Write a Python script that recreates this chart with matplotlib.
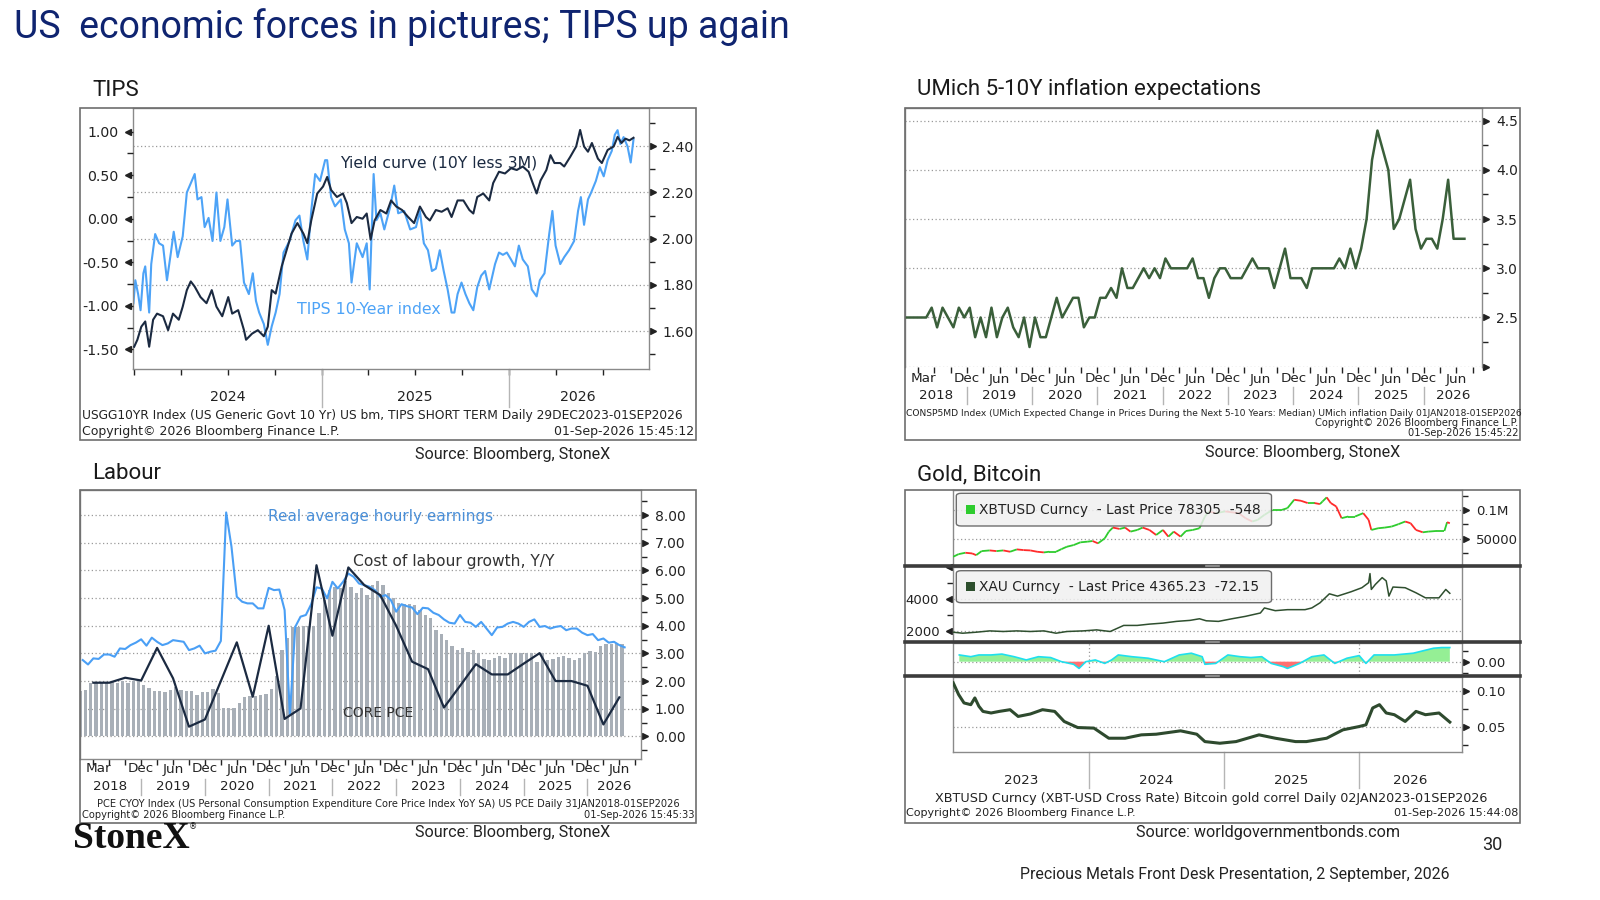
import numpy as np
import matplotlib
matplotlib.use('Agg')
import matplotlib.pyplot as plt
from matplotlib.patches import Rectangle, FancyBboxPatch
from matplotlib.transforms import blended_transform_factory, offset_copy
from matplotlib.collections import LineCollection
from matplotlib.lines import Line2D

# ---------------- data ----------------
# TIPS panel (decimal years)
yc_t = [2024.000, 2024.017, 2024.038, 2024.059, 2024.080, 2024.101, 2024.122, 2024.154, 2024.181, 2024.207,
        2024.238, 2024.259, 2024.281, 2024.302, 2024.323, 2024.354, 2024.386, 2024.414, 2024.439, 2024.470,
        2024.502, 2024.523, 2024.555, 2024.586, 2024.597, 2024.629, 2024.660, 2024.692, 2024.713, 2024.734,
        2024.755, 2024.787, 2024.808, 2024.840, 2024.871, 2024.903, 2024.924, 2024.945, 2024.977, 2025.008,
        2025.030, 2025.051, 2025.082, 2025.114, 2025.135, 2025.160, 2025.188, 2025.219, 2025.241, 2025.262,
        2025.283, 2025.314, 2025.346, 2025.371, 2025.399, 2025.430, 2025.462, 2025.494, 2025.525, 2025.557,
        2025.578, 2025.610, 2025.641, 2025.673, 2025.694, 2025.726, 2025.757, 2025.789, 2025.810, 2025.831,
        2025.863, 2025.895, 2025.916, 2025.947, 2025.979, 2026.011, 2026.042, 2026.074, 2026.105, 2026.127,
        2026.148, 2026.169, 2026.200, 2026.222, 2026.243, 2026.274, 2026.295, 2026.327, 2026.359, 2026.380,
        2026.401, 2026.422, 2026.443, 2026.475, 2026.496, 2026.527, 2026.559, 2026.580, 2026.601, 2026.622,
        2026.643, 2026.665]
yc_v = [-1.47, -1.39, -1.24, -1.18, -1.47, -1.16, -1.09, -1.12, -1.28, -1.09,
        -1.16, -1.01, -0.82, -0.72, -0.78, -0.90, -0.97, -0.82, -1.01, -1.12,
        -0.90, -1.09, -1.05, -1.28, -1.39, -1.32, -1.28, -1.35, -1.24, -0.82,
        -0.86, -0.55, -0.40, -0.17, -0.05, -0.17, -0.28, -0.02, 0.29, 0.37,
        0.48, 0.33, 0.25, 0.29, 0.18, -0.05, 0.02, 0.00, 0.06, -0.24,
        -0.02, 0.10, 0.06, 0.21, 0.14, 0.10, 0.02, -0.05, 0.14, 0.02,
        -0.02, 0.10, 0.08, 0.12, 0.02, 0.21, 0.21, 0.10, 0.06, 0.25,
        0.29, 0.21, 0.41, 0.54, 0.52, 0.58, 0.56, 0.60, 0.54, 0.41,
        0.29, 0.44, 0.56, 0.73, 0.64, 0.64, 0.60, 0.71, 0.83, 1.02,
        0.83, 0.77, 0.87, 0.69, 0.64, 0.79, 0.83, 0.94, 0.87, 0.92,
        0.90, 0.93]

tips_t = [2023.996, 2024.006, 2024.021, 2024.034, 2024.049, 2024.059, 2024.080, 2024.091, 2024.112, 2024.133,
          2024.154, 2024.175, 2024.196, 2024.211, 2024.232, 2024.259, 2024.281, 2024.302, 2024.323, 2024.338,
          2024.359, 2024.376, 2024.397, 2024.418, 2024.439, 2024.460, 2024.481, 2024.498, 2024.523, 2024.544,
          2024.565, 2024.586, 2024.612, 2024.633, 2024.650, 2024.667, 2024.692, 2024.713, 2024.734, 2024.755,
          2024.776, 2024.797, 2024.829, 2024.861, 2024.882, 2024.903, 2024.924, 2024.945, 2024.966, 2024.992,
          2025.019, 2025.030, 2025.051, 2025.072, 2025.103, 2025.124, 2025.146, 2025.160, 2025.188, 2025.219,
          2025.241, 2025.257, 2025.278, 2025.293, 2025.314, 2025.335, 2025.367, 2025.388, 2025.409, 2025.441,
          2025.473, 2025.504, 2025.525, 2025.546, 2025.568, 2025.589, 2025.610, 2025.631, 2025.652, 2025.673,
          2025.694, 2025.709, 2025.726, 2025.747, 2025.768, 2025.789, 2025.810, 2025.831, 2025.852, 2025.873,
          2025.895, 2025.926, 2025.947, 2025.968, 2025.989, 2026.011, 2026.032, 2026.053, 2026.074, 2026.101,
          2026.122, 2026.148, 2026.165, 2026.190, 2026.215, 2026.232, 2026.249, 2026.274, 2026.295, 2026.321,
          2026.348, 2026.369, 2026.384, 2026.401, 2026.422, 2026.439, 2026.464, 2026.485, 2026.506, 2026.527,
          2026.549, 2026.565, 2026.580, 2026.595, 2026.612, 2026.633, 2026.650, 2026.665]
tips_v = [1.72, 1.82, 1.76, 1.69, 1.85, 1.88, 1.68, 1.89, 2.02, 1.98,
          1.97, 1.82, 1.94, 2.03, 1.92, 2.01, 2.20, 2.24, 2.28, 2.17,
          2.18, 2.05, 2.09, 1.99, 2.20, 1.99, 2.05, 2.17, 1.97, 1.99,
          1.99, 1.81, 1.76, 1.85, 1.73, 1.68, 1.63, 1.54, 1.62, 1.68,
          1.76, 1.94, 1.99, 2.08, 2.10, 1.99, 1.91, 2.12, 2.28, 2.25,
          2.34, 2.34, 2.18, 2.14, 2.17, 2.04, 1.98, 1.81, 1.98, 1.92,
          1.98, 1.78, 2.28, 2.08, 2.11, 2.04, 2.14, 2.23, 2.11, 2.12,
          2.04, 2.05, 2.12, 1.98, 1.95, 1.86, 1.87, 1.95, 1.86, 1.78,
          1.68, 1.68, 1.76, 1.81, 1.76, 1.72, 1.69, 1.79, 1.84, 1.86,
          1.78, 1.89, 1.94, 1.93, 1.94, 1.91, 1.88, 1.97, 1.91, 1.88,
          1.78, 1.75, 1.82, 1.85, 2.02, 2.12, 1.97, 1.89, 1.92, 1.95,
          1.99, 2.12, 2.18, 2.06, 2.17, 2.20, 2.25, 2.31, 2.27, 2.34,
          2.38, 2.45, 2.47, 2.41, 2.44, 2.40, 2.33, 2.43]

# UMich 5-10Y inflation expectations, monthly from Jan 2018
umich_start = 2018
umich_v = [2.5, 2.5, 2.5, 2.5, 2.5, 2.6, 2.4, 2.6, 2.5, 2.4, 2.6, 2.5,
           2.6, 2.3, 2.5, 2.3, 2.6, 2.3, 2.5, 2.6, 2.4, 2.3, 2.5, 2.2,
           2.5, 2.3, 2.3, 2.5, 2.7, 2.5, 2.6, 2.7, 2.7, 2.4, 2.5, 2.5,
           2.7, 2.7, 2.8, 2.7, 3.0, 2.8, 2.8, 2.9, 3.0, 2.9, 3.0, 2.9,
           3.1, 3.0, 3.0, 3.0, 3.0, 3.1, 2.9, 2.9, 2.7, 2.9, 3.0, 3.0,
           2.9, 2.9, 2.9, 3.0, 3.1, 3.0, 3.0, 3.0, 2.8, 3.0, 3.2, 2.9,
           2.9, 2.9, 2.8, 3.0, 3.0, 3.0, 3.0, 3.0, 3.1, 3.0, 3.2, 3.0,
           3.2, 3.5, 4.1, 4.4, 4.2, 4.0, 3.4, 3.5, 3.7, 3.9, 3.4, 3.2,
           3.3, 3.3, 3.2, 3.5, 3.9, 3.3, 3.3, 3.3]

# Labour panel, monthly from Jan 2018
labour_start = 2018
core_pce = [1.65, 1.67, 1.94, 1.94, 1.94, 1.94, 1.98, 1.94, 2.00, 1.94, 2.00, 2.00,
            1.86, 1.76, 1.65, 1.65, 1.59, 1.67, 1.77, 1.67, 1.65, 1.65, 1.49, 1.59,
            1.61, 1.71, 1.55, 1.01, 1.01, 1.01, 1.22, 1.41, 1.46, 1.46, 1.49, 1.53,
            1.71, 2.19, 3.14, 3.54, 3.94, 3.96, 4.00, 4.00, 4.00, 4.45, 4.93, 5.29,
            5.39, 5.36, 5.61, 5.39, 5.17, 5.35, 5.11, 5.47, 5.61, 5.47, 5.20, 4.99,
            4.83, 4.78, 4.78, 4.75, 4.57, 4.39, 4.29, 3.84, 3.70, 3.48, 3.28, 3.12,
            3.18, 3.06, 3.12, 3.00, 2.78, 2.76, 2.82, 2.90, 2.84, 3.00, 3.00, 3.00,
            3.00, 3.00, 2.70, 3.00, 2.76, 2.80, 2.86, 2.90, 2.82, 2.76, 2.82, 3.00,
            3.10, 3.06, 3.27, 3.34, 3.34, 3.36, 3.34]
real_earn = [2.76, 2.60, 2.82, 2.80, 2.96, 2.96, 2.88, 3.18, 3.16, 3.30, 3.39, 3.51,
             3.28, 3.57, 3.42, 3.30, 3.36, 3.48, 3.45, 3.42, 3.12, 3.18, 3.28, 3.00,
             3.06, 3.10, 3.45, 8.10, 6.86, 5.05, 4.87, 4.81, 4.81, 4.63, 4.63, 5.37,
             5.29, 5.31, 4.57, 0.77, 3.96, 4.33, 4.39, 4.78, 5.39, 5.35, 4.99, 5.59,
             5.35, 5.59, 5.89, 5.77, 5.53, 5.47, 5.41, 5.29, 5.05, 5.11, 4.93, 4.51,
             4.78, 4.71, 4.66, 4.42, 4.65, 4.63, 4.47, 4.39, 4.23, 4.11, 4.08, 4.39,
             4.14, 4.11, 3.96, 4.14, 3.90, 3.66, 3.94, 3.96, 4.08, 4.14, 4.08, 3.96,
             4.14, 4.23, 3.96, 3.99, 3.90, 3.96, 3.99, 3.84, 3.90, 3.90, 3.75, 3.66,
             3.70, 3.48, 3.54, 3.39, 3.42, 3.30, 3.22]
# quarterly, Mar 2018 .. Jun 2026
labour_cost = [1.94, 1.94, 2.12, 2.02, 3.20, 2.10, 0.35, 0.61, 2.00, 3.40,
               1.43, 4.00, 0.63, 1.01, 6.19, 3.64, 6.11, 5.47, 5.11, 4.00,
               2.70, 2.43, 1.04, 1.82, 2.61, 2.24, 2.24, 2.63, 3.01, 2.00,
               2.00, 1.83, 0.43, 1.41]

# Gold / Bitcoin panel
btc_t = [2023.00, 2023.04, 2023.09, 2023.14, 2023.17, 2023.21, 2023.27, 2023.32, 2023.37, 2023.42,
         2023.47, 2023.52, 2023.57, 2023.62, 2023.67, 2023.71, 2023.76, 2023.80, 2023.84, 2023.89,
         2023.94, 2023.99, 2024.03, 2024.07, 2024.12, 2024.15, 2024.18, 2024.23, 2024.27, 2024.31,
         2024.36, 2024.40, 2024.45, 2024.50, 2024.55, 2024.59, 2024.63, 2024.68, 2024.72, 2024.77,
         2024.82, 2024.86, 2024.89, 2024.94, 2025.01, 2025.11, 2025.16, 2025.21, 2025.25, 2025.30,
         2025.36, 2025.43, 2025.47, 2025.52, 2025.57, 2025.62, 2025.67, 2025.71, 2025.73, 2025.76,
         2025.79, 2025.83, 2025.87, 2025.92, 2025.97, 2026.03, 2026.07, 2026.09, 2026.14, 2026.19,
         2026.24, 2026.29, 2026.34, 2026.38, 2026.42, 2026.47, 2026.51, 2026.57, 2026.63, 2026.65,
         2026.67]
btc_k = [18.2, 22.8, 25.2, 24.0, 21.0, 28.1, 29.3, 28.1, 29.3, 27.0,
         31.1, 29.9, 29.3, 27.0, 25.8, 27.0, 27.0, 31.6, 35.8, 38.7,
         43.5, 44.6, 45.8, 41.7, 50.5, 62.3, 69.4, 67.0, 69.4, 62.3,
         65.2, 69.4, 65.2, 56.4, 65.2, 53.5, 62.3, 53.5, 63.4, 65.2,
         68.2, 88.8, 97.7, 94.7, 97.7, 94.7, 85.9, 80.0, 82.9, 91.7,
         100.5, 100.5, 103.5, 118.2, 116.4, 112.4, 112.4, 110.6, 115.4, 122.4,
         112.4, 106.5, 85.9, 88.8, 88.8, 94.7, 82.9, 65.2, 68.2, 69.4,
         71.2, 75.3, 80.0, 77.0, 65.2, 61.1, 62.3, 63.4, 63.4, 78.8,
         77.0]
xau_t = [2023.00, 2023.07, 2023.17, 2023.27, 2023.37, 2023.47, 2023.57, 2023.67, 2023.76, 2023.84,
         2023.96, 2024.06, 2024.16, 2024.26, 2024.36, 2024.45, 2024.55, 2024.65, 2024.75, 2024.82,
         2024.87, 2024.96, 2025.06, 2025.16, 2025.27, 2025.30, 2025.38, 2025.47, 2025.60, 2025.65,
         2025.71, 2025.78, 2025.84, 2025.94, 2026.02, 2026.07, 2026.08, 2026.09, 2026.12, 2026.17,
         2026.20, 2026.22, 2026.25, 2026.34, 2026.42, 2026.49, 2026.59, 2026.64, 2026.67]
xau_v = [1937, 1874, 1937, 2019, 1981, 2019, 1981, 2019, 1874, 1981,
         2019, 2082, 1981, 2360, 2360, 2442, 2505, 2612, 2675, 2776,
         2650, 2612, 2776, 2927, 3136, 3451, 3281, 3344, 3344, 3451,
         3767, 4334, 4189, 4461, 4713, 5028, 5596, 4606, 4921, 5344,
         5136, 4189, 4757, 4713, 4397, 4082, 4082, 4606, 4365]
corr_t = [2023.045, 2023.13, 2023.19, 2023.28, 2023.36, 2023.45, 2023.54, 2023.63, 2023.72, 2023.80,
          2023.89, 2023.93, 2023.98, 2024.05, 2024.12, 2024.17, 2024.22, 2024.32, 2024.44, 2024.56,
          2024.67, 2024.76, 2024.84, 2024.86, 2024.94, 2025.03, 2025.12, 2025.20, 2025.28, 2025.35,
          2025.44, 2025.47, 2025.56, 2025.65, 2025.74, 2025.82, 2025.91, 2026.00, 2026.05, 2026.11,
          2026.26, 2026.40, 2026.55, 2026.61, 2026.67]
corr_v = [0.031, 0.023, 0.031, 0.031, 0.035, 0.023, 0.008, 0.023, 0.019, 0.0,
          -0.012, -0.031, 0.0, 0.008, -0.008, 0.008, 0.031, 0.023, 0.016, 0.0,
          0.031, 0.039, 0.023, -0.012, -0.008, 0.031, 0.023, 0.019, 0.023, -0.008,
          -0.023, -0.031, -0.008, 0.023, 0.031, -0.008, 0.016, 0.028, -0.008, 0.031,
          0.031, 0.039, 0.062, 0.065, 0.065]
ratio_t = [2023.00, 2023.04, 2023.08, 2023.13, 2023.16, 2023.19, 2023.22, 2023.28, 2023.34, 2023.42,
           2023.48, 2023.57, 2023.66, 2023.75, 2023.82, 2023.92, 2024.04, 2024.15, 2024.27, 2024.39,
           2024.50, 2024.68, 2024.80, 2024.86, 2024.97, 2025.09, 2025.26, 2025.38, 2025.53, 2025.61,
           2025.76, 2025.88, 2026.00, 2026.05, 2026.10, 2026.15, 2026.20, 2026.26, 2026.34, 2026.42,
           2026.49, 2026.59, 2026.67]
ratio_v = [0.1118, 0.0954, 0.0837, 0.0813, 0.0907, 0.0790, 0.0719, 0.0697, 0.0719, 0.0743,
           0.0649, 0.0683, 0.0743, 0.0719, 0.0579, 0.0494, 0.0486, 0.0345, 0.0345, 0.0392,
           0.0401, 0.0448, 0.0401, 0.0298, 0.0275, 0.0298, 0.0392, 0.0345, 0.0298, 0.0298,
           0.0345, 0.0462, 0.0508, 0.0532, 0.0767, 0.0813, 0.0697, 0.0673, 0.0579, 0.0719,
           0.0673, 0.0697, 0.0570]

# ---------------- layout helpers ----------------
W, H = 1600, 900
fig = plt.figure(figsize=(16, 9), dpi=100)
fig.patch.set_facecolor('white')

BB = 'DejaVu Sans'
SLIDE = 'Roboto'
INK = '#222222'
NAVY = '#1b2a41'
LBLUE = '#4da3f7'
GREEN = '#3a5f3a'


def fx(px):
    return px / W


def fy(py):
    return 1 - py / H


def px_axes(x0, y0, x1, y1):
    return fig.add_axes([fx(x0), fy(y1), (x1 - x0) / W, (y1 - y0) / H])


def frame(x0, y0, x1, y1):
    r = Rectangle((fx(x0), fy(y1)), (x1 - x0) / W, (y1 - y0) / H, transform=fig.transFigure,
                  fill=False, ec='#6e6e6e', lw=1.2)
    fig.add_artist(r)
    return r


def box(ax):
    for s in ax.spines.values():
        s.set_color('#8a8a8a')
        s.set_linewidth(1)
    ax.set_xticks([])
    ax.set_facecolor('white')


def yaxis_bb(ax, side, majors, labels, minors, fs=9.5):
    if side == 'right':
        ax.yaxis.tick_right()
    else:
        ax.yaxis.tick_left()
    ax.set_yticks(majors)
    ax.set_yticklabels(labels)
    ax.set_yticks(minors, minor=True)
    ax.tick_params(axis='y', which='major', length=4, width=1, pad=6, labelsize=fs,
                   direction='out', colors=INK)
    ax.tick_params(axis='y', which='minor', length=4, width=1, direction='out', colors=INK)
    for lab in ax.get_yticklabels():
        lab.set_family(BB)
    dx = 3 if side == 'right' else -3
    xs = 1 if side == 'right' else 0
    tr = offset_copy(ax.get_yaxis_transform(), fig=fig, x=dx, units='points')
    ax.plot([xs] * len(majors), majors, ls='none', marker='>' if side == 'right' else '<',
            ms=5, color=INK, transform=tr, clip_on=False)


def hgrid(ax, vals, tr=None):
    tr = tr if tr is not None else ax.get_yaxis_transform()
    for v in vals:
        ax.plot([0, 1], [v, v], ls=(0, (1, 2)), color='#9a9a9a', lw=0.9, transform=tr, zorder=0.5)


def xtext(ax, items, py, fs=9.7):
    tr = blended_transform_factory(ax.transData, fig.transFigure)
    for t, s in items:
        ax.text(t, fy(py), s, transform=tr, ha='center', va='center', fontsize=fs,
                family=BB, color=INK, clip_on=False)


def xseps(ax, ts, py0, py1):
    tr = blended_transform_factory(ax.transData, fig.transFigure)
    for t in ts:
        ax.plot([t, t], [fy(py0), fy(py1)], color='#b5b5b5', lw=1, transform=tr, clip_on=False)


def xquarters(ax, qs):
    ax.set_xticks(qs, minor=True)
    ax.tick_params(axis='x', which='minor', length=4, width=1, direction='out', colors=INK)


def ftext(px, py, s, **kw):
    kw.setdefault('va', 'center')
    kw.setdefault('color', INK)
    return fig.text(fx(px), fy(py), s, **kw)


# ---------------- slide texts ----------------
ftext(14, 27, 'US  economic forces in pictures; TIPS up again', fontsize=27, family=SLIDE,
      color='#0f2470')
ftext(92, 91, 'TIPS', fontsize=16, family=SLIDE, color='#1a1a1a')
ftext(917, 89, 'UMich 5-10Y inflation expectations', fontsize=16, family=SLIDE, color='#1a1a1a')
ftext(92, 474, 'Labour', fontsize=16, family=SLIDE, color='#1a1a1a')
ftext(917, 475, 'Gold, Bitcoin', fontsize=16, family=SLIDE, color='#1a1a1a')
ftext(513, 455, 'Source: Bloomberg, StoneX', fontsize=11.6, family=SLIDE, ha='center')
ftext(1303, 452, 'Source: Bloomberg, StoneX', fontsize=11.6, family=SLIDE, ha='center')
ftext(513, 833, 'Source: Bloomberg, StoneX', fontsize=11.6, family=SLIDE, ha='center')
ftext(1268, 833, 'Source: worldgovernmentbonds.com', fontsize=11.6, family=SLIDE, ha='center')
ftext(1492, 845, '30', fontsize=13, family=SLIDE, ha='center')
ftext(1235, 875, 'Precious Metals Front Desk Presentation, 2 September, 2026', fontsize=11.4,
      family=SLIDE, ha='center')
ftext(73, 838, 'StoneX', fontsize=27, family='Liberation Serif', weight='bold', color='#111111')
ftext(189, 827, '\u00ae', fontsize=6, family='DejaVu Sans', color='#111111')

# ---------------- TIPS ----------------
frame(80, 107.5, 696, 440)
ax_t = px_axes(132.5, 108, 648.5, 369)     # right axis: TIPS index
box(ax_t)
ax_t2 = ax_t.twinx()                        # left axis: yield curve
for s in ax_t2.spines.values():
    s.set_visible(False)
ax_t2.set_xticks([])
hgrid(ax_t, [1.6, 1.8, 2.0, 2.2, 2.4])
ax_t.plot(tips_t, tips_v, color=LBLUE, lw=1.5, zorder=2)
ax_t2.plot(yc_t, yc_v, color=NAVY, lw=1.5, zorder=3)
yaxis_bb(ax_t, 'right', [1.6, 1.8, 2.0, 2.2, 2.4], ['1.60', '1.80', '2.00', '2.20', '2.40'],
         [1.5, 1.7, 1.9, 2.1, 2.3, 2.5], fs=10.2)
yaxis_bb(ax_t2, 'left', [-1.5, -1.0, -0.5, 0.0, 0.5, 1.0],
         ['-1.50', '-1.00', '-0.50', '0.00', '0.50', '1.00'],
         [-1.25, -0.75, -0.25, 0.25, 0.75], fs=10.2)
xquarters(ax_t, [2024.0, 2024.25, 2024.5, 2024.75, 2025.0, 2025.25, 2025.5, 2025.75,
                 2026.0, 2026.25, 2026.5])
xseps(ax_t, [2025.0, 2026.0], 369, 407)
xtext(ax_t, [(2024.5, '2024'), (2025.5, '2025'), (2026.37, '2026')], 397, fs=10.2)
ax_t.set_xlim(2023.991, 2026.745)
ax_t.set_ylim(1.4355, 2.566)
ax_t2.set_ylim(-1.726, 1.272)
ftext(340, 163, 'Yield curve (10Y less 3M)', fontsize=11.3, family=BB, color=NAVY)
ftext(297, 310, 'TIPS 10-Year index', fontsize=11.3, family=BB, color=LBLUE)
ftext(82, 416, 'USGG10YR Index (US Generic Govt 10 Yr) US bm, TIPS SHORT TERM Daily 29DEC2023-01SEP2026',
      fontsize=8.85, family=BB)
ftext(82, 431, 'Copyright\u00a9 2026 Bloomberg Finance L.P.', fontsize=9, family=BB)
ftext(694, 431, '01-Sep-2026 15:45:12', fontsize=9, family=BB, ha='right')

# ---------------- UMich ----------------
frame(904.5, 108, 1520, 440)
ax_u = px_axes(904.5, 108.3, 1482, 366.7)
box(ax_u)
ax_u.spines['bottom'].set_visible(False)
hgrid(ax_u, [2.0, 2.5, 3.0, 3.5, 4.0, 4.5])
um_t = umich_start + (np.arange(len(umich_v)) + 0.5) / 12
ax_u.plot(um_t, umich_v, color=GREEN, lw=1.8, zorder=3)
yaxis_bb(ax_u, 'right', [2.0, 2.5, 3.0, 3.5, 4.0, 4.5], ['', '2.5', '3.0', '3.5', '4.0', '4.5'],
         [2.25, 2.75, 3.25, 3.75, 4.25], fs=10)
years_u = list(range(2019, 2027))
xquarters(ax_u, [y + q for y in range(2018, 2027) for q in (0, 0.25, 0.5, 0.75)
                 if 2018.2 < y + q < 2026.85])
month_items = [(2018.33, 'Mar')] + [(y, 'Dec') for y in years_u] + [(y + 0.5, 'Jun') for y in years_u]
year_items = [(2018.52, '2018')] + [(y + 0.5, str(y)) for y in range(2019, 2026)] + [(2026.45, '2026')]
xtext(ax_u, month_items, 379)
xtext(ax_u, year_items, 396)
xseps(ax_u, years_u, 387, 404)
ax_u.set_xlim(2018.042, 2026.894)
ax_u.set_ylim(2.0, 4.626)
ftext(906, 413, 'CONSP5MD Index (UMich Expected Change in Prices During the Next 5-10 Years: Median) '
      'UMich inflation Daily 01JAN2018-01SEP2026', fontsize=6.55, family=BB)
ftext(1518, 423, 'Copyright\u00a9 2026 Bloomberg Finance L.P.', fontsize=7.1, family=BB, ha='right')
ftext(1518, 433, '01-Sep-2026 15:45:22', fontsize=7.1, family=BB, ha='right')

# ---------------- Labour ----------------
frame(80, 490, 696, 822.5)
ax_l = px_axes(79.7, 489.5, 641, 759)
box(ax_l)
hgrid(ax_l, [0, 1, 2, 3, 4, 5, 6, 7, 8])
lab_t = labour_start + (np.arange(len(core_pce)) + 0.5) / 12
ax_l.bar(lab_t, core_pce, width=0.052, color='#a8afb7', zorder=1)
earn_t = labour_start + (np.arange(len(real_earn)) + 1.0) / 12
ax_l.plot(earn_t, real_earn, color='#4a9ff5', lw=1.5, zorder=3)
cost_t = labour_start + (np.arange(len(labour_cost)) + 1) * 3 / 12
ax_l.plot(cost_t, labour_cost, color=NAVY, lw=1.6, zorder=4)
yaxis_bb(ax_l, 'right', [0, 1, 2, 3, 4, 5, 6, 7, 8],
         ['0.00', '1.00', '2.00', '3.00', '4.00', '5.00', '6.00', '7.00', '8.00'],
         [-0.5, 0.5, 1.5, 2.5, 3.5, 4.5, 5.5, 6.5, 7.5, 8.5], fs=10)
xquarters(ax_l, [y + q for y in range(2018, 2027) for q in (0, 0.25, 0.5, 0.75)
                 if 2018.2 < y + q < 2026.8])
xtext(ax_l, month_items, 769)
year_items_l = [(2018.52, '2018')] + [(y + 0.5, str(y)) for y in range(2019, 2026)] + [(2026.42, '2026')]
xtext(ax_l, year_items_l, 787)
xseps(ax_l, years_u, 779, 795)
ax_l.set_xlim(2018.036, 2026.84)
ax_l.set_ylim(-0.82, 8.93)
ftext(268, 516.5, 'Real average hourly earnings', fontsize=11, family=BB, color='#4a8fd8')
ftext(353, 561.5, 'Cost of labour growth, Y/Y', fontsize=11.2, family=BB, color='#333333')
ftext(343, 713, 'CORE PCE', fontsize=10, family=BB, color='#333333')
ftext(388, 804, 'PCE CYOY Index (US Personal Consumption Expenditure Core Price Index YoY SA) '
      'US PCE Daily 31JAN2018-01SEP2026', fontsize=7.1, family=BB, ha='center')
ftext(82, 814.5, 'Copyright\u00a9 2026 Bloomberg Finance L.P.', fontsize=7.1, family=BB)
ftext(694, 814.5, '01-Sep-2026 15:45:33', fontsize=7.1, family=BB, ha='right')

# ---------------- Gold, Bitcoin ----------------
frame(904.5, 490, 1520, 822.5)
s1 = px_axes(953.2, 490, 1462, 564.5)
s2 = px_axes(953.2, 566.5, 1462, 641)
s3 = px_axes(953.2, 643, 1462, 674.5)
s4 = px_axes(953.2, 676.5, 1462, 751.7)
for a in (s1, s2, s3, s4):
    box(a)

btc_v = np.array(btc_k) * 1000
pts = np.column_stack([btc_t, btc_v])
segs = np.stack([pts[:-1], pts[1:]], axis=1)
cols = np.where(np.diff(btc_v) >= 0, '#2ecc2e', '#ff2a2a')
hgrid(s1, [50000, 100000])
s1.add_collection(LineCollection(segs, colors=cols, lw=1.3, zorder=3))
yaxis_bb(s1, 'right', [50000, 100000], ['50000', '0.1M'], [25000, 75000, 125000], fs=9.5)
s1.set_ylim(4600, 135300)

hgrid(s2, [2000, 4000])
s2.plot(xau_t, xau_v, color='#2f4f2f', lw=1.1, zorder=3)
yaxis_bb(s2, 'left', [2000, 4000, 6000], ['2000', '4000', ''], [3000, 5000], fs=9.5)
s2.set_ylim(1388, 6038)

cv = np.array(corr_v)
hgrid(s3, [0.0])
for xv in (2024.0, 2026.0):
    s3.axvline(xv, ls=(0, (1, 2)), color='#9a9a9a', lw=0.9, zorder=0.5)
s3.fill_between(corr_t, cv, 0, where=cv >= 0, interpolate=True, color='#95ef95', lw=0, zorder=2)
s3.fill_between(corr_t, cv, 0, where=cv < 0, interpolate=True, color='#ff7070', lw=0, zorder=2)
s3.plot(corr_t, cv, color='#1ee0ee', lw=1.2, zorder=3)
yaxis_bb(s3, 'right', [0.0], ['0.00'], [-0.05, 0.05], fs=9.5)
s3.set_ylim(-0.059, 0.086)

hgrid(s4, [0.05, 0.10])
s4.plot(ratio_t, ratio_v, color='#2e4a2e', lw=2.2, zorder=3)
yaxis_bb(s4, 'right', [0.05, 0.10], ['0.05', '0.10'], [0.025, 0.075], fs=9.5)
s4.set_ylim(0.0157, 0.1206)

for a in (s1, s2, s3, s4):
    a.set_xlim(2023.0, 2026.76)

xseps(s4, [2024.0, 2025.0, 2026.0], 751.7, 788)
xtext(s4, [(2023.5, '2023'), (2024.5, '2024'), (2025.5, '2025'), (2026.38, '2026')], 780)

# thick separators between the stacked panes
for py in (565.5, 642, 675.5):
    fig.add_artist(Line2D([fx(904.5), fx(1520)], [fy(py), fy(py)], transform=fig.transFigure,
                          color='#3c3c3c', lw=2.6))
    fig.add_artist(Line2D([fx(1206), fx(1219)], [fy(py), fy(py)], transform=fig.transFigure,
                          color='#9a9a9a', lw=1.2))

# legend boxes
for (y0, y1, label, sq) in [(493.3, 526, 'XBTUSD Curncy  - Last Price 78305  -548', '#2ecc2e'),
                            (570.7, 602.7, 'XAU Curncy  - Last Price 4365.23  -72.15', '#2d4f2d')]:
    fig.add_artist(FancyBboxPatch((fx(956.3), fy(y1)), (1271.5 - 956.3) / W, (y1 - y0) / H,
                                  boxstyle='round,pad=0,rounding_size=0.003',
                                  transform=fig.transFigure, fc='#f0f0f0', ec='#555555',
                                  lw=1, alpha=0.85))
    fig.add_artist(Rectangle((fx(966), fy((y0 + y1) / 2 + 4.5)), 9 / W, 9 / H,
                             transform=fig.transFigure, fc=sq, ec='none'))
    ftext(979, (y0 + y1) / 2, label, fontsize=9.9, family=BB)

ftext(1211, 798.5, 'XBTUSD Curncy (XBT-USD Cross Rate) Bitcoin gold correl Daily 02JAN2023-01SEP2026',
      fontsize=9.2, family=BB, ha='center')
ftext(906, 813, 'Copyright\u00a9 2026 Bloomberg Finance L.P.', fontsize=8, family=BB)
ftext(1518, 813, '01-Sep-2026 15:44:08', fontsize=8, family=BB, ha='right')

fig.savefig('out.png', dpi=100)
